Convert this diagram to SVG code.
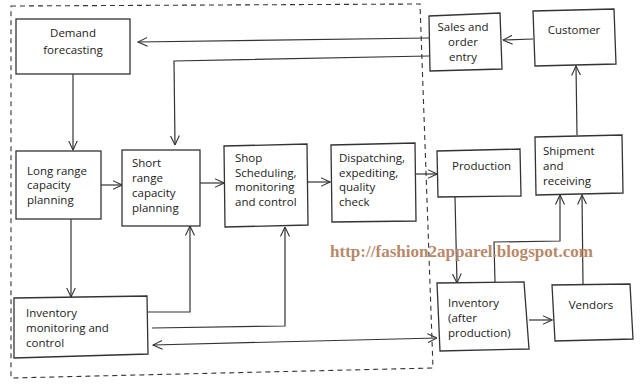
<svg xmlns="http://www.w3.org/2000/svg" width="640" height="385" viewBox="0 0 640 385">
<style>
.box{fill:#fff;stroke:#333;stroke-width:1.3}
.t{font-family:"Open Sans","DejaVu Sans",sans-serif;font-size:11.5px;fill:#222}
.c{text-anchor:middle}
.ln{fill:none;stroke:#333;stroke-width:1.2}
.ar{marker-end:url(#ah)}
.dash{fill:none;stroke:#333;stroke-width:1.1;stroke-dasharray:5,4}
.wm{font-family:"Liberation Serif","Times New Roman",serif;font-size:17px;font-weight:bold;fill:#b8896a}
</style>
<defs>
<marker id="ah" viewBox="0 0 10 10" refX="9.5" refY="5" markerWidth="10" markerHeight="10" markerUnits="userSpaceOnUse" orient="auto-start-reverse">
<path d="M0,0.5 L9.5,5 L0,9.5" fill="none" stroke="#333" stroke-width="1.1"/>
</marker>
</defs>
<rect width="640" height="385" fill="#fff"/>
<path class="dash" d="M11,6 L420,4 L433,368 L11,378 Z"/>
<g id="connectors">
<line class="ln ar" x1="533" y1="39" x2="503" y2="40"/>
<line class="ln ar" x1="429" y1="38" x2="138" y2="42"/>
<polyline class="ln ar" points="429,56 174,61 175,145"/>
<line class="ln ar" x1="73" y1="74" x2="73" y2="150"/>
<line class="ln ar" x1="101" y1="185" x2="122" y2="185"/>
<line class="ln ar" x1="200" y1="183" x2="224" y2="183"/>
<line class="ln ar" x1="307" y1="182" x2="330" y2="182"/>
<line class="ln ar" x1="416" y1="174" x2="437" y2="174"/>
<line class="ln ar" x1="577" y1="135" x2="576" y2="66"/>
<line class="ln ar" x1="455" y1="197" x2="457" y2="283"/>
<polyline class="ln ar" points="495,282 494,242 560,241 560,195"/>
<line class="ln ar" x1="583" y1="284" x2="582" y2="195"/>
<line class="ln ar" x1="529" y1="320" x2="552" y2="320"/>
<line class="ln ar" x1="71" y1="219" x2="71" y2="297"/>
<polyline class="ln ar" points="148,312 190,312 190,226"/>
<polyline class="ln ar" points="152,328 285,326 285,227"/>
<line class="ln ar" x1="153" y1="345" x2="437" y2="338" style="marker-start:url(#ah)"/>
</g>
<g id="demand">
<rect class="box" x="16" y="19" width="114" height="55"/>
<text class="t c" x="73" y="37">Demand</text>
<text class="t c" x="73" y="54">forecasting</text>
</g>
<g id="sales">
<polygon class="box" points="429,16 500,13 502,69 430,71"/>
<text class="t c" x="463" y="31">Sales and</text>
<text class="t c" x="463" y="46">order</text>
<text class="t c" x="463" y="61">entry</text>
</g>
<g id="customer">
<polygon class="box" points="533,11 614,9 616,64 535,66"/>
<text class="t c" x="574" y="34">Customer</text>
</g>
<g id="longrange">
<rect class="box" x="16" y="151" width="85" height="68"/>
<text class="t" x="27" y="175">Long range</text>
<text class="t" x="27" y="189">capacity</text>
<text class="t" x="27" y="204">planning</text>
</g>
<g id="shortrange">
<rect class="box" x="122" y="150" width="78" height="76"/>
<text class="t" x="132" y="167">Short</text>
<text class="t" x="132" y="182">range</text>
<text class="t" x="132" y="197">capacity</text>
<text class="t" x="132" y="212">planning</text>
</g>
<g id="shop">
<polygon class="box" points="224,146 307,144 308,225 225,227"/>
<text class="t" x="235" y="162">Shop</text>
<text class="t" x="235" y="177">Scheduling,</text>
<text class="t" x="235" y="191">monitoring</text>
<text class="t" x="235" y="206">and control</text>
</g>
<g id="dispatching">
<polygon class="box" points="331,145 415,143 416,221 332,222"/>
<text class="t" x="339" y="162">Dispatching,</text>
<text class="t" x="339" y="177">expediting,</text>
<text class="t" x="339" y="191">quality</text>
<text class="t" x="339" y="206">check</text>
</g>
<g id="production">
<polygon class="box" points="437,151 520,149 521,196 438,197"/>
<text class="t" x="452" y="170">Production</text>
</g>
<g id="shipment">
<polygon class="box" points="535,137 622,135 623,193 536,195"/>
<text class="t" x="543" y="155">Shipment</text>
<text class="t" x="543" y="170">and</text>
<text class="t" x="543" y="185">receiving</text>
</g>
<g id="invmon">
<polygon class="box" points="14,298 147,296 148,354 14,358"/>
<text class="t" x="26" y="317">Inventory</text>
<text class="t" x="26" y="332">monitoring  and</text>
<text class="t" x="26" y="347">control</text>
</g>
<g id="invafter">
<polygon class="box" points="437,283 524,282 529,349 440,351"/>
<text class="t" x="448" y="307">Inventory</text>
<text class="t" x="448" y="322">(after</text>
<text class="t" x="448" y="337">production)</text>
</g>
<g id="vendors">
<polygon class="box" points="552,285 630,284 633,339 555,341"/>
<text class="t c" x="591" y="309">Vendors</text>
</g>
<text class="wm" x="330" y="257" textLength="263" lengthAdjust="spacingAndGlyphs">http://fashion2apparel.blogspot.com</text>
</svg>
